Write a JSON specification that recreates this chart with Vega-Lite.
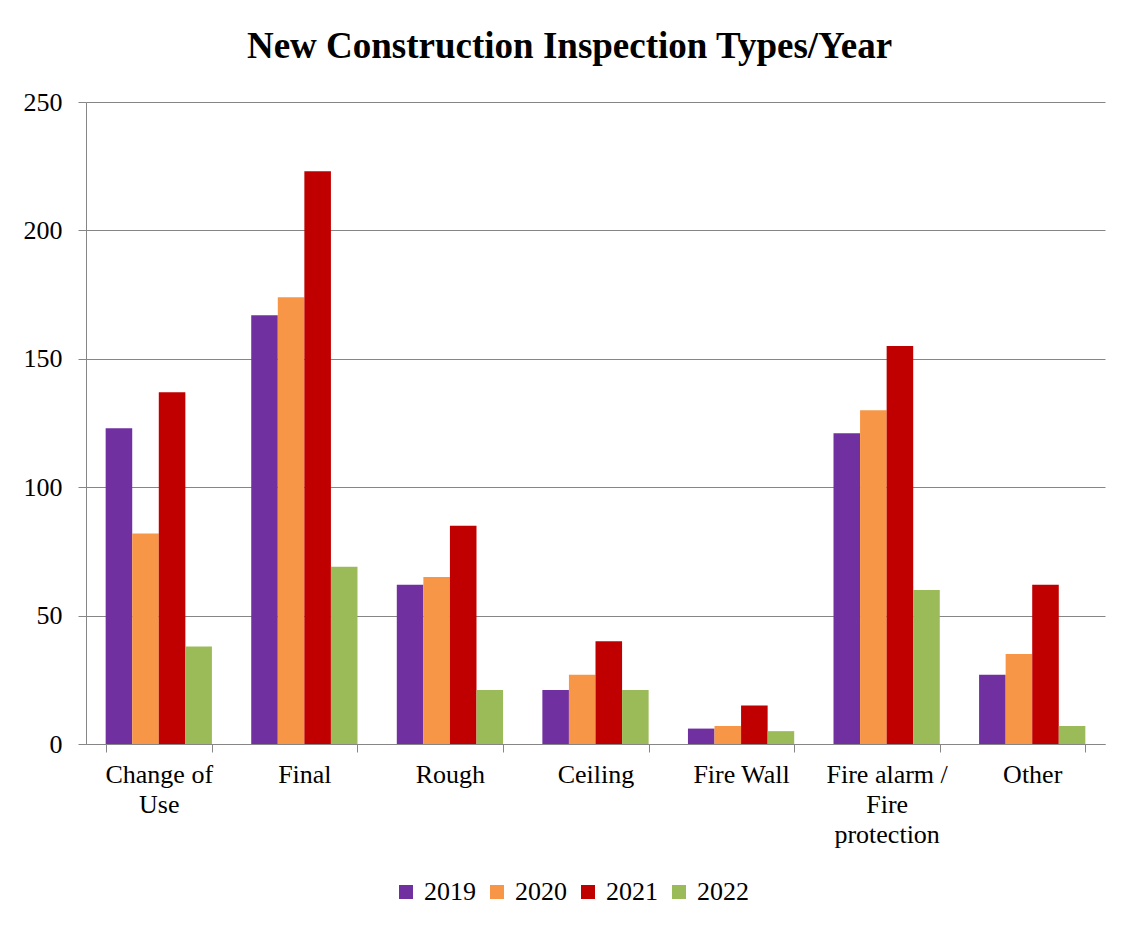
{
  "$schema": "https://vega.github.io/schema/vega-lite/v6.json",
  "width": 1019,
  "height": 642,
  "autosize": {"type": "none"},
  "padding": {"left": 86, "top": 102, "right": 16, "bottom": 182},
  "background": "white",
  "title": {
    "text": "New Construction Inspection Types/Year",
    "font": "Liberation Serif",
    "fontSize": 37,
    "fontWeight": "bold",
    "color": "black",
    "anchor": "middle",
    "offset": 23,
    "dx": -26
  },
  "config": {
    "view": {"stroke": null},
    "font": "Liberation Serif",
    "axis": {"labelFont": "Liberation Serif, Times New Roman, serif"},
    "legend": {"labelFont": "Liberation Serif, Times New Roman, serif"}
  },
  "data": {
    "values": [
      {"type": "Change of Use", "year": "2019", "count": 123},
      {"type": "Change of Use", "year": "2020", "count": 82},
      {"type": "Change of Use", "year": "2021", "count": 137},
      {"type": "Change of Use", "year": "2022", "count": 38},
      {"type": "Final", "year": "2019", "count": 167},
      {"type": "Final", "year": "2020", "count": 174},
      {"type": "Final", "year": "2021", "count": 223},
      {"type": "Final", "year": "2022", "count": 69},
      {"type": "Rough", "year": "2019", "count": 62},
      {"type": "Rough", "year": "2020", "count": 65},
      {"type": "Rough", "year": "2021", "count": 85},
      {"type": "Rough", "year": "2022", "count": 21},
      {"type": "Ceiling", "year": "2019", "count": 21},
      {"type": "Ceiling", "year": "2020", "count": 27},
      {"type": "Ceiling", "year": "2021", "count": 40},
      {"type": "Ceiling", "year": "2022", "count": 21},
      {"type": "Fire Wall", "year": "2019", "count": 6},
      {"type": "Fire Wall", "year": "2020", "count": 7},
      {"type": "Fire Wall", "year": "2021", "count": 15},
      {"type": "Fire Wall", "year": "2022", "count": 5},
      {"type": "Fire alarm / Fire protection", "year": "2019", "count": 121},
      {"type": "Fire alarm / Fire protection", "year": "2020", "count": 130},
      {"type": "Fire alarm / Fire protection", "year": "2021", "count": 155},
      {"type": "Fire alarm / Fire protection", "year": "2022", "count": 60},
      {"type": "Other", "year": "2019", "count": 27},
      {"type": "Other", "year": "2020", "count": 35},
      {"type": "Other", "year": "2021", "count": 62},
      {"type": "Other", "year": "2022", "count": 7}
    ]
  },
  "mark": {"type": "bar"},
  "encoding": {
    "x": {
      "field": "type",
      "type": "nominal",
      "sort": null,
      "title": null,
      "scale": {"paddingInner": 0.27, "paddingOuter": 0.135},
      "axis": {
        "labelAngle": 0,
        "labelFont": "Liberation Serif, Times New Roman, serif",
        "labelFontSize": 26,
        "labelColor": "black",
        "labelLineHeight": 30,
        "labelPadding": 9,
        "labelBaseline": "top",
        "tickBand": "extent",
        "tickSize": 8,
        "tickColor": "#868686",
        "domainColor": "#868686",
        "labelExpr": "datum.value == 'Change of Use' ? ['Change of', 'Use'] : datum.value == 'Fire alarm / Fire protection' ? ['Fire alarm /', 'Fire', 'protection'] : datum.value"
      }
    },
    "xOffset": {"field": "year", "type": "nominal", "sort": ["2019", "2020", "2021", "2022"]},
    "y": {
      "field": "count",
      "type": "quantitative",
      "title": null,
      "scale": {"domain": [0, 250]},
      "axis": {
        "values": [0, 50, 100, 150, 200, 250],
        "labelFont": "Liberation Serif, Times New Roman, serif",
        "labelFontSize": 26,
        "labelColor": "black",
        "labelPadding": 16,
        "tickSize": 8,
        "tickColor": "#868686",
        "domainColor": "#868686",
        "gridColor": "#868686",
        "gridOpacity": 1
      }
    },
    "color": {
      "field": "year",
      "type": "nominal",
      "title": null,
      "scale": {"domain": ["2019", "2020", "2021", "2022"], "range": ["#7030A0", "#F79646", "#C00000", "#9BBB59"]},
      "legend": {
        "orient": "none",
        "legendX": 307,
        "legendY": 777,
        "padding": 0,
        "direction": "horizontal",
        "symbolType": "square",
        "symbolSize": 196,
        "symbolStrokeWidth": 0,
        "symbolOpacity": 1,
        "labelFont": "Liberation Serif, Times New Roman, serif",
        "labelFontSize": 26,
        "labelColor": "black",
        "columnPadding": 8,
        "labelOffset": 5
      }
    }
  }
}
